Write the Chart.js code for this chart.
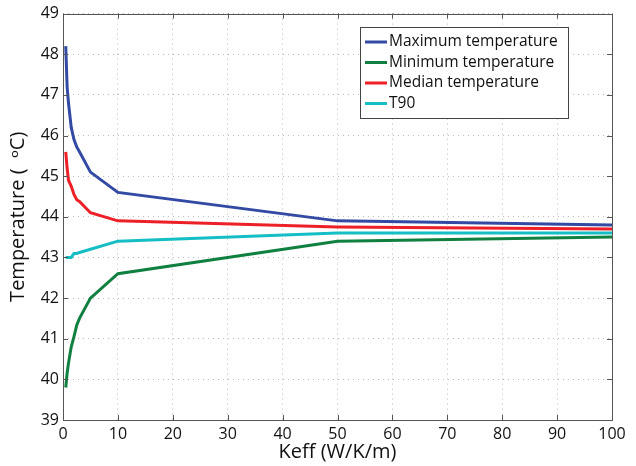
<!DOCTYPE html>
<html>
<head>
<meta charset="utf-8">
<script src="https://cdn.jsdelivr.net/npm/chart.js@4/dist/chart.umd.min.js"></script>
<style>
  html, body { margin: 0; padding: 0; background: #fff; }
  #wrap { width: 636px; height: 466px; }
</style>
</head>
<body>
<div id="wrap"><canvas id="chart1"></canvas></div>
<script>
const keff = [0.5, 0.75, 1, 1.5, 2, 2.5, 3, 5, 10, 50, 100];
const maxTemp = [48.2, 47.2, 46.8, 46.2, 45.9, 45.72, 45.6, 45.1, 44.6, 43.9, 43.8];
const minTemp = [39.8, 40.15, 40.4, 40.8, 41.05, 41.33, 41.5, 42.0, 42.6, 43.4, 43.5];
const medianTemp = [45.6, 45.2, 44.9, 44.75, 44.55, 44.42, 44.38, 44.1, 43.9, 43.75, 43.7];
const t90 = [43.0, 43.0, 43.0, 43.0, 43.1, 43.1, 43.12, 43.2, 43.4, 43.6, 43.6];

const seriesNames = ['Maximum temperature', 'Minimum temperature', 'Median temperature', 'T90'];
const seriesColors = ['rgb(50,74,164)', 'rgb(16,128,64)', 'rgb(236,32,38)', 'rgb(20,190,196)'];

const font = '"Open Sans", "Noto Sans", sans-serif';

function pts(vals) {
    return keff.map((k, i) => ({ x: k, y: vals[i] }));
}

// MATLAB style box, inside ticks and legend
const matlabBox = {
    id: 'matlabBox',
    afterDatasetsDraw(chart) {
        const { ctx, chartArea: a, scales: { x, y } } = chart;
        ctx.save();
        ctx.strokeStyle = '#555';
        ctx.lineWidth = 1;
        ctx.beginPath();
        x.ticks.forEach(t => {
            const px = Math.round(x.getPixelForValue(t.value)) + 0.5;
            ctx.moveTo(px, a.bottom); ctx.lineTo(px, a.bottom - 5);
            ctx.moveTo(px, a.top); ctx.lineTo(px, a.top + 5);
        });
        y.ticks.forEach(t => {
            const py = Math.round(y.getPixelForValue(t.value)) + 0.5;
            ctx.moveTo(a.left, py); ctx.lineTo(a.left + 5, py);
            ctx.moveTo(a.right, py); ctx.lineTo(a.right - 5, py);
        });
        ctx.stroke();
        ctx.strokeRect(Math.round(a.left) + 0.5, Math.round(a.top) + 0.5, Math.round(a.right - a.left), Math.round(a.bottom - a.top));

        // legend
        const lx = 360, ly = 27, lw = 208, lh = 91;
        ctx.fillStyle = '#fff';
        ctx.fillRect(lx, ly, lw, lh);
        ctx.strokeStyle = '#444';
        ctx.strokeRect(lx + 0.5, ly + 0.5, lw, lh);
        ctx.font = '15.5px ' + font;
        ctx.textBaseline = 'middle';
        chart.data.datasets.forEach((ds, i) => {
            const cy = ly + 15 + i * 20.5;
            ctx.strokeStyle = ds.borderColor;
            ctx.lineWidth = 3;
            ctx.beginPath();
            ctx.moveTo(lx + 5, cy); ctx.lineTo(lx + 27, cy);
            ctx.stroke();
            ctx.fillStyle = '#111';
            ctx.fillText(ds.label, lx + 29, cy);
        });
        ctx.restore();
    }
};

const data = {
    datasets: seriesNames.map((name, i) => ({
        label: name,
        data: pts([maxTemp, minTemp, medianTemp, t90][i]),
        borderColor: seriesColors[i],
        backgroundColor: seriesColors[i],
        borderWidth: 3,
        pointRadius: 0,
        tension: 0,
    }))
};

const config = {
    type: 'line',
    data: data,
    options: {
        responsive: true,
        maintainAspectRatio: false,
        animation: false,
        layout: { padding: { left: 6, right: 24, top: 12, bottom: 2 } },
        plugins: { legend: { display: false }, tooltip: { enabled: false } },
        scales: {
            x: {
                type: 'linear',
                min: 0, max: 100,
                ticks: { stepSize: 10, color: '#111', font: { family: font, size: 16 }, padding: 5, maxRotation: 0 },
                grid: { color: '#bbb', tickLength: 0, drawTicks: false },
                border: { display: false, dash: [1, 4] },
                title: { display: true, text: 'Keff (W/K/m)', color: '#111', font: { family: font, size: 20 }, padding: { top: 0, bottom: 0 } },
                afterFit(s) { s.height = 44; }
            },
            y: {
                min: 39, max: 49,
                ticks: { stepSize: 1, color: '#111', font: { family: font, size: 16 }, padding: 4 },
                grid: { color: '#bbb', drawTicks: false },
                border: { display: false, dash: [1, 4] },
                title: { display: true, text: 'Temperature (  \u1D52C)', color: '#111', font: { family: font, size: 20 }, padding: { top: 0, bottom: 2 } },
                afterFit(s) { s.width = 57; }
            }
        }
    },
    plugins: [matlabBox]
};

// eslint-disable-next-line
const chartOne = new Chart(document.getElementById('chart1'), config);
</script>
</body>
</html>
